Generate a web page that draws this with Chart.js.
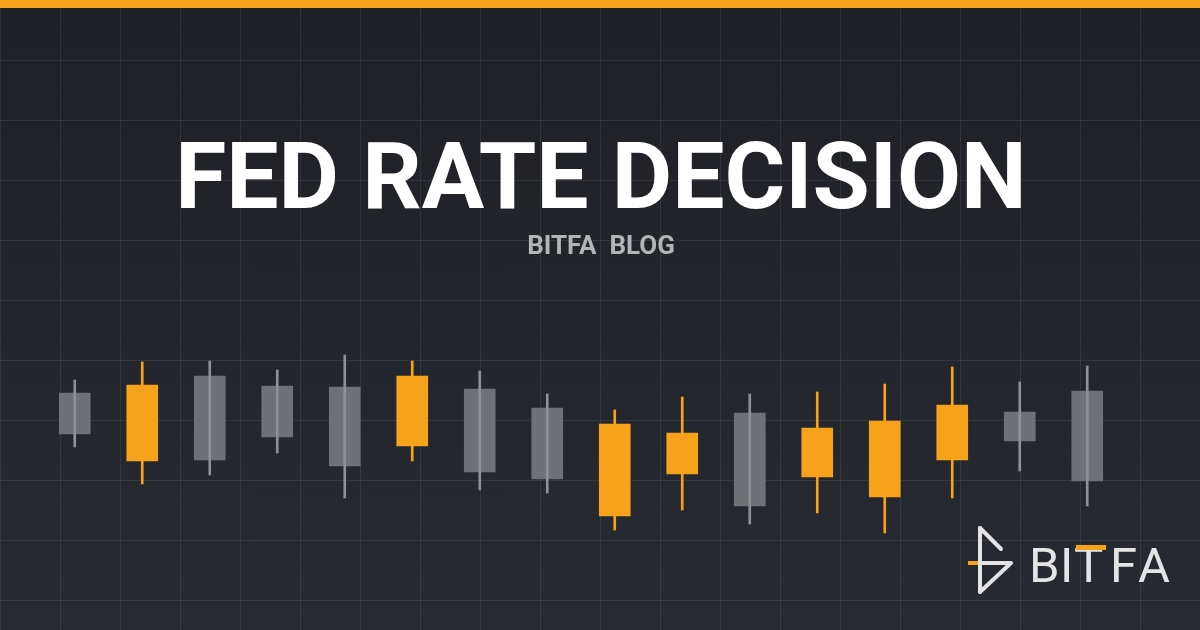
<!DOCTYPE html>
<html>
<head>
<meta charset="utf-8">
<script src="https://cdn.jsdelivr.net/npm/chart.js@4.4.1/dist/chart.umd.min.js"></script>
<style>
  html, body { margin: 0; padding: 0; background: #202228; }
  #wrap {
    position: relative; width: 1200px; height: 630px; overflow: hidden;
    background-image:
      linear-gradient(to right, rgba(255,255,255,0.08) 1px, transparent 1px),
      linear-gradient(to bottom, rgba(255,255,255,0.08) 1px, transparent 1px),
      linear-gradient(to bottom, #1e2025, #272a31);
    background-size: 60px 60px, 60px 60px, 100% 100%;
  }
  #topbar { position: absolute; left: 0; top: 0; width: 1200px; height: 8px; background: #f7a21b; }
  canvas { position: absolute; left: 0; top: 0; }
  svg { position: absolute; left: 0; top: 0; }
</style>
</head>
<body>
<div id="wrap">
  <canvas id="c" width="1200" height="630"></canvas>
  <svg width="1200" height="630" viewBox="0 0 1200 630">
    <text x="601" y="208" text-anchor="middle" font-family="Roboto" font-weight="700" font-size="93" fill="#ffffff">FED RATE DECISION</text>
    <text x="601" y="254" text-anchor="middle" font-family="Roboto" font-weight="700" font-size="26" fill="#b3b4b7" style="white-space:pre">BITFA  BLOG</text>
    <g fill="none" stroke="#e4e4e4" stroke-width="4" stroke-linecap="round" stroke-linejoin="round">
      <path d="M980,528 L980,592"/>
      <path d="M980,528 L1001,549"/>
      <path d="M980,563 L1011,563 L980,592"/>
    </g>
    <path d="M968,563 L978,563" stroke="#f7a21b" stroke-width="4"/>
    <text x="1029 1060 1074 1110 1138" y="582" font-family="Roboto" font-weight="400" font-size="49" fill="#e4e4e4">BITFA</text>
    <rect x="1076" y="545" width="30" height="5" fill="#f7a21b"/>
  </svg>
  <div id="topbar"></div>
</div>
<script>
// Candle values (price units)
const sessions = ["1","2","3","4","5","6","7","8","9","10","11","12","13","14","15","16"];
const opens  = [237, 169, 254, 244, 243, 184, 241, 222, 114, 156, 217, 153, 133, 170, 218, 239];
const closes = [196, 245, 170, 193, 164, 254, 158, 151, 206, 197, 124, 202, 209, 225, 189, 149];
const highs  = [250, 268, 269, 260, 275, 269, 259, 236, 220, 233, 236, 238, 246, 263, 248, 264];
const lows   = [183, 146, 155, 177, 132, 169, 140, 137, 100, 120, 106, 117,  97, 132, 159, 124];

const ORANGE = '#f7a21b';
const GRAY_BODY = '#6f7176';
const GRAY_WICK = '#8f9195';

const isUp = opens.map((o, i) => closes[i] > o);

new Chart(document.getElementById('c'), {
  type: 'bar',
  data: {
    labels: sessions,
    datasets: [
      {
        label: 'wick',
        data: lows.map((l, i) => [l, highs[i]]),
        backgroundColor: isUp.map(u => u ? ORANGE : GRAY_WICK),
        borderWidth: 0,
        barThickness: 2,
        grouped: false,
        order: 0
      },
      {
        label: 'body',
        data: opens.map((o, i) => [o, closes[i]]),
        backgroundColor: isUp.map(u => u ? ORANGE : GRAY_BODY),
        borderWidth: 0,
        barThickness: 31,
        grouped: false,
        order: 1
      }
    ]
  },
  options: {
    responsive: false,
    animation: false,
    devicePixelRatio: 1,
    layout: { padding: { left: 41, right: 79, top: 0, bottom: 0 } },
    plugins: { legend: { display: false }, tooltip: { enabled: false }, title: { display: false } },
    scales: {
      x: { display: false, offset: true, grid: { display: false } },
      y: { display: false, min: 0, max: 630, grid: { display: false } }
    }
  }
});
</script>
</body>
</html>
